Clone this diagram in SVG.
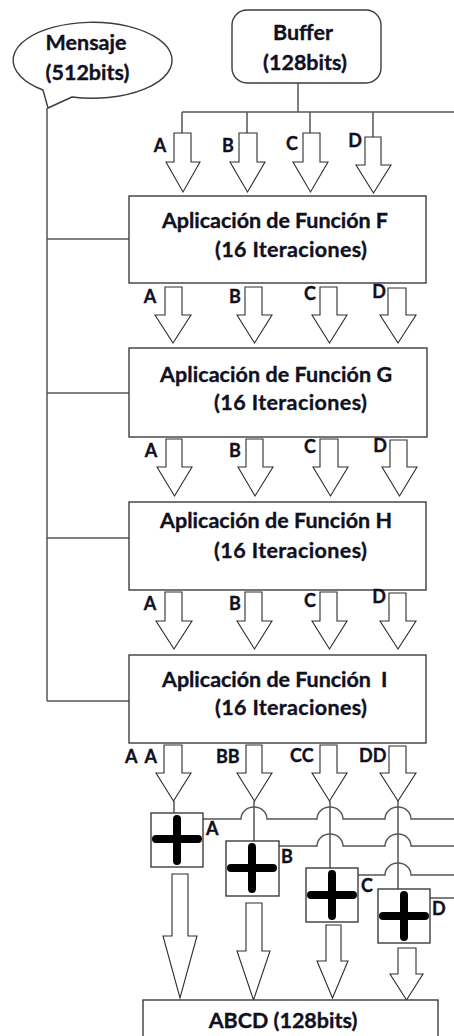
<svg xmlns="http://www.w3.org/2000/svg" width="454" height="1036" viewBox="0 0 454 1036">
  <style>
    .bg { fill: #ffffff; }
    .box { fill: #ffffff; stroke: #3c3c3c; stroke-width: 1.4; }
    .wire { fill: none; stroke: #555555; stroke-width: 1.5; }
    .arrow { fill: #ffffff; stroke: #2e2e2e; stroke-width: 1.1; stroke-linejoin: miter; }
    .cross { fill: none; stroke: #000000; stroke-width: 8; stroke-linecap: round; }
    text { font-family: Lato, "Open Sans", "Liberation Sans", sans-serif; font-weight: bold; fill: #10101e; stroke: #10101e; stroke-width: 0.35; }
    .t { font-size: 21.5px; }
    .lbl { font-size: 18px; }
    .mid { text-anchor: middle; }
  </style>
  <rect class="bg" x="0" y="0" width="454" height="1036"/>

  <!-- connectors -->
  <g id="connectors">
    <!-- message bus -->
    <path class="wire" d="M47 108 V701 M47 239 H129 M47 393 H129 M47 538 H129 M47 701 H129"/>
    <!-- buffer bus -->
    <path class="wire" d="M298 83 V112 M182 112 H454 M182 112 V133 M247 112 V133 M310 112 V133 M373 112 V137"/>
    <!-- arrow tips to adders -->
    <path class="wire" d="M174 801 V813 M254 801 V841 M330 801 V868 M398 801 V889"/>
    <!-- adder outputs with line jumps -->
    <path class="wire" d="M203 819 H241 A13 12 0 0 1 267 819 H317 A13 12 0 0 1 343 819 H385 A13 12 0 0 1 411 819 H454"/>
    <path class="wire" d="M279 846 H317 A13 12 0 0 1 343 846 H385 A13 12 0 0 1 411 846 H454"/>
    <path class="wire" d="M358 875 H385 A13 12 0 0 1 411 875 H454"/>
    <path class="wire" d="M430 898 H454"/>

    <!-- buffer to F -->
    <path class="arrow" d="M174 133 H191 V162 H200 L183 192 L166 162 H174 Z"/>
    <path class="arrow" d="M239 133 H257 V162 H265 L247.5 192 L230 162 H239 Z"/>
    <path class="arrow" d="M303 133 H320 V162 H328 L310.5 192 L293 162 H303 Z"/>
    <path class="arrow" d="M365 137 H381 V165 H391 L373.5 193 L356 165 H365 Z"/>

    <!-- F to G -->
    <path class="arrow" d="M165 287 H182 V315 H191 L173 343 L155 315 H165 Z"/>
    <path class="arrow" d="M245 287 H262 V315 H272 L254.5 343 L237 315 H245 Z"/>
    <path class="arrow" d="M320 287 H337 V315 H347 L329.5 343 L312 315 H320 Z"/>
    <path class="arrow" d="M388 288 H406 V315 H416 L398 343 L380 315 H388 Z"/>

    <!-- G to H -->
    <path class="arrow" d="M166 439 H182 V467 H192 L174.5 496 L157 467 H166 Z"/>
    <path class="arrow" d="M246 439 H263 V467 H273 L255 496 L238 467 H246 Z"/>
    <path class="arrow" d="M320 439 H338 V467 H348 L330.5 496 L313 467 H320 Z"/>
    <path class="arrow" d="M390 440 H407 V467 H417 L399.5 496 L382 467 H390 Z"/>

    <!-- H to I -->
    <path class="arrow" d="M165 592 H182 V621 H192 L174 649 L156 621 H165 Z"/>
    <path class="arrow" d="M245 592 H262 V621 H272 L254.5 649 L237 621 H245 Z"/>
    <path class="arrow" d="M320 592 H337 V621 H347 L329.5 649 L312 621 H320 Z"/>
    <path class="arrow" d="M389 593 H406 V621 H416 L398 649 L380 621 H389 Z"/>

    <!-- I to adders -->
    <path class="arrow" d="M164 745 H182 V773 H191 L173.5 801 L156 773 H164 Z"/>
    <path class="arrow" d="M246 745 H262 V773 H272 L254.5 801 L237 773 H246 Z"/>
    <path class="arrow" d="M320 745 H337 V773 H347 L329.5 801 L312 773 H320 Z"/>
    <path class="arrow" d="M389 746 H406 V773 H416 L398 801 L380 773 H389 Z"/>

    <!-- adders to result -->
    <path class="arrow" d="M172 874 H188 V936 H197 L180 998 L163 936 H172 Z"/>
    <path class="arrow" d="M246 903 H262 V951 H270 L253.5 1000 L237 951 H246 Z"/>
    <path class="arrow" d="M326 925 H341 V961 H348 L332.5 998 L317 961 H326 Z"/>
    <path class="arrow" d="M398 948 H416 V974 H423 L406.5 1000 L390 974 H398 Z"/>
  </g>

  <!-- message (speech bubble) -->
  <g id="mensaje">
    <path class="box" d="M43 90 A79.5 38 0 1 1 72 97 L48 108 Z" stroke-linejoin="round"/>
    <text class="t mid" x="86" y="50">Mensaje</text>
    <text class="t mid" x="87.5" y="80">(512bits)</text>
  </g>

  <g id="buffer">
    <rect class="box" x="232" y="10" width="149" height="73" rx="15"/>
    <text class="t mid" x="303" y="40">Buffer</text>
    <text class="t mid" x="305" y="70">(128bits)</text>
  </g>

  <g id="funcion-f">
    <rect class="box" x="129" y="196" width="297" height="87"/>
    <text class="t" x="162" y="228" textLength="226">Aplicación de Función F</text>
    <text class="t" x="215" y="257" textLength="152">(16 Iteraciones)</text>
  </g>

  <g id="funcion-g">
    <rect class="box" x="129" y="348" width="298" height="89"/>
    <text class="t" x="160" y="382" textLength="232">Aplicación de Función G</text>
    <text class="t" x="214" y="410" textLength="153">(16 Iteraciones)</text>
  </g>

  <g id="funcion-h">
    <rect class="box" x="129" y="502" width="297" height="88"/>
    <text class="t" x="160" y="528" textLength="232">Aplicación de Función H</text>
    <text class="t" x="214" y="558" textLength="153">(16 Iteraciones)</text>
  </g>

  <g id="funcion-i">
    <rect class="box" x="129" y="655" width="297" height="88"/>
    <text class="t" x="162" y="687" textLength="209">Aplicación de Función</text>
    <text class="t" x="381" y="687">I</text>
    <text class="t" x="215" y="715" textLength="152">(16 Iteraciones)</text>
  </g>

  <!-- register labels -->
  <g id="labels">
    <text class="lbl mid" x="160" y="152">A</text>
    <text class="lbl mid" x="228" y="152">B</text>
    <text class="lbl mid" x="292" y="150">C</text>
    <text class="lbl mid" x="355" y="147">D</text>

    <text class="lbl mid" x="150" y="303">A</text>
    <text class="lbl mid" x="235" y="303">B</text>
    <text class="lbl mid" x="310" y="300">C</text>
    <text class="lbl mid" x="379" y="298">D</text>

    <text class="lbl mid" x="151" y="457">A</text>
    <text class="lbl mid" x="235" y="457">B</text>
    <text class="lbl mid" x="310" y="453">C</text>
    <text class="lbl mid" x="380" y="452">D</text>

    <text class="lbl mid" x="150" y="610">A</text>
    <text class="lbl mid" x="235" y="610">B</text>
    <text class="lbl mid" x="310" y="607">C</text>
    <text class="lbl mid" x="379" y="603">D</text>

    <text class="lbl" x="125" y="763" textLength="32">A A</text>
    <text class="lbl" x="216" y="763">BB</text>
    <text class="lbl" x="290" y="762">CC</text>
    <text class="lbl" x="359" y="762">DD</text>
  </g>

  <!-- adders -->
  <g id="suma-a">
    <rect class="box" x="151" y="813" width="52" height="54"/>
    <path class="cross" d="M177 819 V861 M156 839 H198"/>
    <text class="lbl" x="206" y="835">A</text>
  </g>
  <g id="suma-b">
    <rect class="box" x="226" y="841" width="53" height="55"/>
    <path class="cross" d="M252 847 V889 M231 868 H273"/>
    <text class="lbl" x="281" y="863">B</text>
  </g>
  <g id="suma-c">
    <rect class="box" x="306" y="868" width="52" height="54"/>
    <path class="cross" d="M332 874 V916 M311 895 H353"/>
    <text class="lbl" x="361" y="892">C</text>
  </g>
  <g id="suma-d">
    <rect class="box" x="378" y="889" width="52" height="54"/>
    <path class="cross" d="M404 895 V937 M383 916 H425"/>
    <text class="lbl" x="432" y="915">D</text>
  </g>

  <g id="abcd">
    <rect class="box" x="143" y="1000" width="295" height="50"/>
    <text class="t mid" x="283" y="1028">ABCD (128bits)</text>
  </g>
</svg>
